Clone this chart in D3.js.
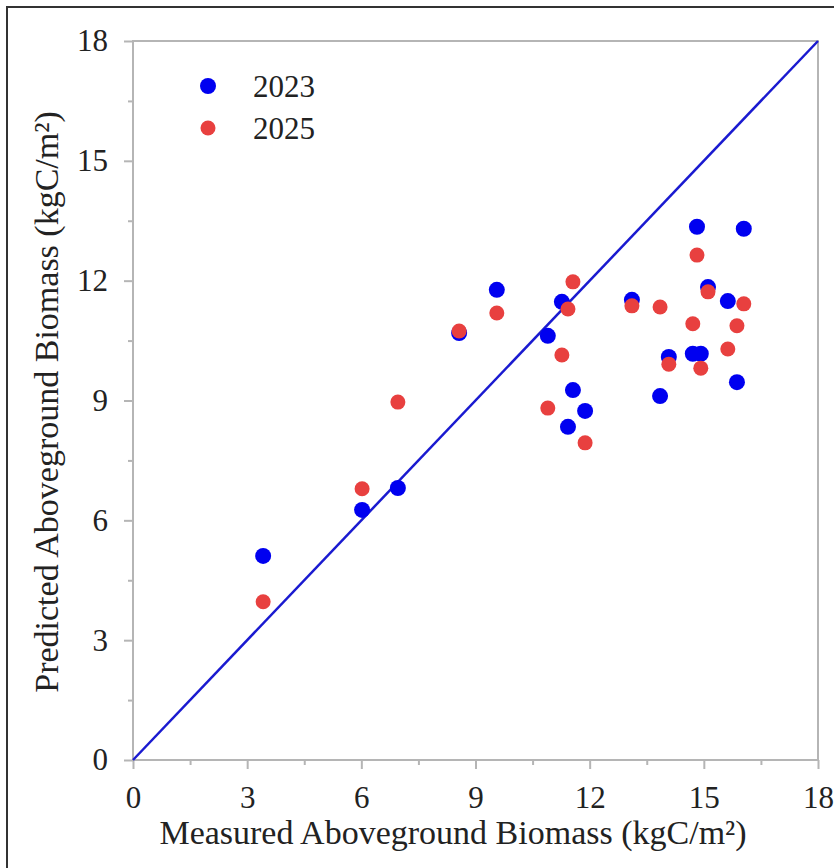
<!DOCTYPE html>
<html><head><meta charset="utf-8">
<script src="https://cdn.jsdelivr.net/npm/d3@7"></script>
<style>body{margin:0;background:#fff}svg{display:block}</style>
</head><body>
<script>
const measured = [3.42,6.02,6.96,8.57,9.56,10.90,11.27,11.43,11.56,11.88,13.11,13.85,14.08,14.82,14.71,14.92,15.11,15.63,15.87,16.05];
const pred2023 = [5.11,6.26,6.81,10.69,11.77,10.62,11.47,8.34,9.26,8.74,11.52,9.11,10.09,13.35,10.17,10.17,11.84,11.49,9.46,13.30];
const pred2025 = [3.96,6.79,8.96,10.74,11.19,8.81,10.14,11.29,11.97,7.94,11.37,11.34,9.91,12.64,10.92,9.81,11.72,10.29,10.87,11.42];
const series = ["2023","2025"];
const colors = ["#0000f0","#e8403f"];
const radii = [8,7.5];
const majorTicks = [0,3,6,9,12,15,18];
const minorTicks = [1.5,4.5,7.5,10.5,13.5,16.5];
const xTitle = "Measured Aboveground Biomass (kgC/m²)";
const yTitle = "Predicted Aboveground Biomass (kgC/m²)";

const FONT='"Liberation Serif"';
const FS="31px";
const TFS="34px";
const W=834,H=868;
const svg=d3.select("body").append("svg").attr("width",W).attr("height",H);
// outer frame
svg.append("path").attr("d","M7,868V7H834").attr("fill","none").attr("stroke","#333").attr("stroke-width",2);

const x=d3.scaleLinear().domain([0,18]).range([133,818]);
const y=d3.scaleLinear().domain([0,18]).range([760,41]);
const axisCol="#b5b5b5";

// box
svg.append("rect").attr("x",x(0)).attr("y",y(18)).attr("width",x(18)-x(0)).attr("height",y(0)-y(18))
 .attr("fill","none").attr("stroke",axisCol).attr("stroke-width",2);

// axes
const gx=svg.append("g").attr("transform",`translate(0,${y(0)})`)
 .call(d3.axisBottom(x).tickValues(majorTicks).tickSize(9).tickPadding(17).tickFormat(d3.format("d")));
const gxm=svg.append("g").attr("transform",`translate(0,${y(0)})`)
 .call(d3.axisBottom(x).tickValues(minorTicks).tickSize(5).tickFormat(""));
const gy=svg.append("g").attr("transform",`translate(${x(0)},0)`)
 .call(d3.axisLeft(y).tickValues(majorTicks).tickSize(9).tickPadding(16).tickFormat(d3.format("d")));
const gym=svg.append("g").attr("transform",`translate(${x(0)},0)`)
 .call(d3.axisLeft(y).tickValues(minorTicks).tickSize(5).tickFormat(""));
[gx,gxm,gy,gym].forEach(g=>{
  g.attr("font-family",null).attr("font-size",null);
  g.select(".domain").remove();
  g.selectAll(".tick line").attr("stroke",axisCol).attr("stroke-width",2);
  g.selectAll(".tick text").style("font-family",FONT).style("font-size",FS).attr("fill","#222");
});

// 1:1 line
svg.append("line").attr("x1",x(0)).attr("y1",y(0)).attr("x2",x(18)).attr("y2",y(18))
 .attr("stroke","#1a1ad0").attr("stroke-width",2.5);

// points
[pred2023,pred2025].forEach((vals,i)=>{
  svg.append("g").selectAll("circle").data(measured.map((m,j)=>[m,vals[j]])).join("circle")
   .attr("cx",d=>x(d[0])).attr("cy",d=>y(d[1])).attr("r",radii[i]).attr("fill",colors[i]);
});

// legend
series.forEach((s,i)=>{
  const cy=86+i*42;
  svg.append("circle").attr("cx",208).attr("cy",cy).attr("r",radii[i]).attr("fill",colors[i]);
  svg.append("text").attr("x",253).attr("y",cy+11).style("font-family",FONT).style("font-size",FS).attr("fill","#222").text(s);
});

// axis titles
svg.append("text").attr("x",453).attr("y",844).attr("text-anchor","middle")
 .style("font-family",FONT).style("font-size",TFS).attr("fill","#222").text(xTitle);
svg.append("text").attr("transform","translate(58,402) rotate(-90)").attr("text-anchor","middle")
 .style("font-family",FONT).style("font-size",TFS).attr("fill","#222").text(yTitle);
</script>
</body></html>
